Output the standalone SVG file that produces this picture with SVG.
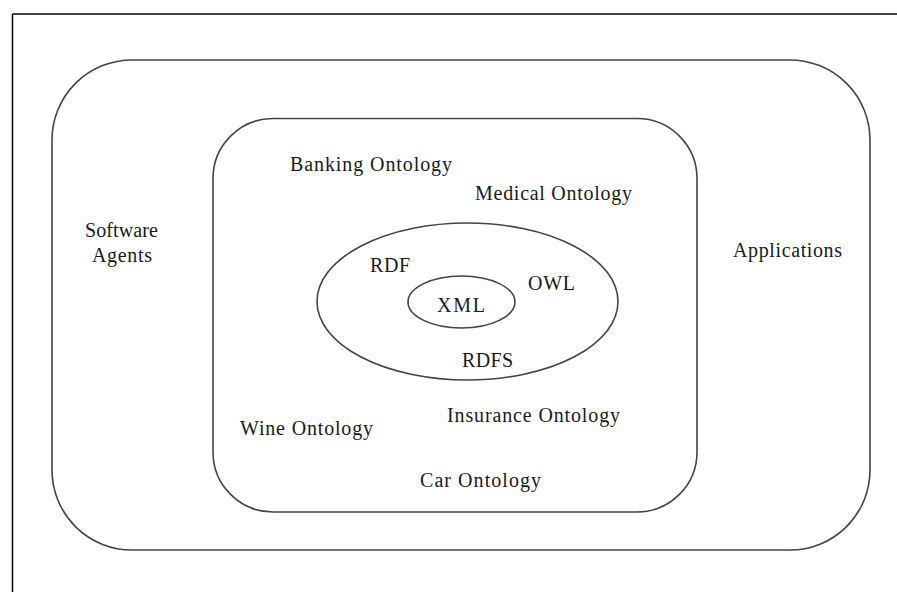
<svg xmlns="http://www.w3.org/2000/svg" width="897" height="592" viewBox="0 0 897 592">
<style>
.frame{stroke:#000;stroke-width:1.5;fill:none}
.shape{stroke:#444;stroke-width:1.6;fill:none}
text{font-family:"Liberation Serif","Times New Roman",serif;font-size:20px;fill:#1a1a1a}
</style>
<rect width="897" height="592" fill="#fff"/>
<g id="frame">
<line class="frame" x1="12.5" y1="14" x2="897" y2="14"/>
<line class="frame" x1="12.5" y1="14" x2="12.5" y2="592"/>
</g>
<g id="outer">
<rect class="shape" x="52" y="60" width="818" height="490" rx="80" ry="80"/>
<text x="85" y="237" textLength="73" lengthAdjust="spacing">Software</text>
<text x="92" y="262" textLength="60" lengthAdjust="spacing">Agents</text>
<text x="733" y="257" textLength="109" lengthAdjust="spacing">Applications</text>
</g>
<g id="ontologies">
<rect class="shape" x="213" y="118.5" width="484" height="393.5" rx="60" ry="60"/>
<text x="290" y="171" textLength="162" lengthAdjust="spacing">Banking Ontology</text>
<text x="475" y="200" textLength="157" lengthAdjust="spacing">Medical Ontology</text>
<text x="240" y="435" textLength="133" lengthAdjust="spacing">Wine Ontology</text>
<text x="447" y="422" textLength="173" lengthAdjust="spacing">Insurance Ontology</text>
<text x="420" y="487" textLength="121" lengthAdjust="spacing">Car Ontology</text>
</g>
<g id="languages">
<ellipse class="shape" cx="467.5" cy="301.5" rx="150.5" ry="78.5"/>
<text x="370" y="272" textLength="40" lengthAdjust="spacing">RDF</text>
<text x="528" y="290" textLength="47" lengthAdjust="spacing">OWL</text>
<text x="462" y="367" textLength="51" lengthAdjust="spacing">RDFS</text>
</g>
<g id="xml">
<ellipse class="shape" cx="461.5" cy="302" rx="53.5" ry="26"/>
<text x="437" y="312" textLength="48" lengthAdjust="spacing">XML</text>
</g>
<g id="connectors"/>
</svg>
